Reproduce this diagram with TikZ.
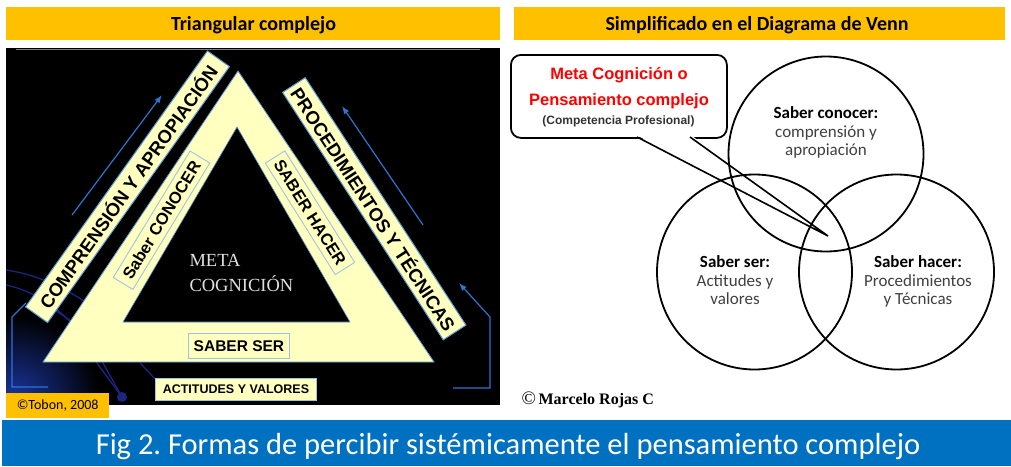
\documentclass[tikz,border=0pt]{standalone}
\usepackage{fontspec}
\usetikzlibrary{arrows.meta}
\newfontfamily\calfont{Carlito}
\newfontfamily\arifont{Liberation Sans}
\newfontfamily\tmsfont{Liberation Serif}
\definecolor{hdr}{HTML}{FFC000}
\definecolor{lyel}{HTML}{FFFFC0}
\definecolor{edgeblue}{HTML}{5B9BD5}
\definecolor{boxblue}{HTML}{9DC3E6}
\definecolor{arrblue}{HTML}{2E74D0}
\definecolor{navyline}{HTML}{1C2580}
\definecolor{glowblue}{HTML}{1A35A0}
\definecolor{banner}{HTML}{0070C0}
\definecolor{txtgrey}{HTML}{404040}
\definecolor{subgrey}{HTML}{333333}
\newcommand\fsz[1]{\fontsize{#1}{#1}\selectfont}
\frenchspacing
\tikzset{
  stripbox/.style={draw=edgeblue, line width=1pt, fill=lyel, inner sep=0pt, text=black, font=\arifont\bfseries\fsz{18.5}},
  inbox/.style={draw=boxblue, line width=0.9pt, fill=lyel, inner sep=0pt, text=black, font=\arifont\bfseries\fsz{16.5}},
  barbox/.style={fill=hdr, inner sep=0pt, anchor=north west},
  arr/.style={draw=arrblue, line width=1.2pt, -{Latex[length=8pt,width=6pt]}},
  arrline/.style={draw=arrblue, line width=1.2pt},
  navyarc/.style={draw=navyline, line width=1.3pt},
  vtitle/.style={font=\calfont\bfseries\fsz{17}, anchor=base, text=black},
  vtext/.style={font=\calfont\fsz{17}, anchor=base, text=txtgrey},
  venn/.style={circle, draw=black, line width=1.8pt, minimum size=195pt, inner sep=0pt},
  hdrtext/.style={anchor=base, font=\calfont\bfseries\fsz{20}, text=black},
  redtext/.style={anchor=base, text=red, font=\arifont\bfseries\fsz{16.5}},
  metatext/.style={anchor=base west, text=black!12, font=\tmsfont\fsz{18.5}}
}
\begin{document}
\begin{tikzpicture}[x=1pt,y=-1pt]
\useasboundingbox (0,0) rectangle (1011,466);
\fill[white] (0,0) rectangle (1011,466);

% headers
\node[barbox, minimum width=494pt, minimum height=33pt] (hl) at (6,7) {};
\node[hdrtext] (hlt) at (253.5,30) {Triangular complejo};
\node[barbox, minimum width=491pt, minimum height=33pt] (hr) at (514,7) {};
\node[hdrtext] (hrt) at (757,30) {Simplificado en el Diagrama de Venn};

% left panel
\fill[black] (6,48) rectangle (500,405);
\begin{scope}
  \clip (6,48) rectangle (500,405);
  \shade[inner color=glowblue, outer color=black] (15,400) circle (85pt);
\end{scope}
\draw[draw=black!50, line width=1.5pt] (16,49.5) -- (480,49.5);

% decorative navy arcs
\draw[navyarc] (6,270) .. controls (40,275) and (70,290) .. (100,312);
\draw[navyarc] (6,285) .. controls (40,292) and (80,320) .. (97,363) -- (122,397);
\draw[navyarc] (45,305) .. controls (75,320) and (95,340) .. (103,363) -- (122,397);
\draw[navyarc] (140,363) -- (158,382);
\fill[navyline] (122,397) circle (5pt);

% blue arrows
\coordinate (la1) at (72,215);  \coordinate (la2) at (162,95);
\coordinate (ra1) at (423,225); \coordinate (ra2) at (342,106);
\draw[arr] (la1) -- (la2);
\draw[arr] (ra1) -- (ra2);
\coordinate (br1) at (453,388); \coordinate (br2) at (490,388);
\coordinate (br3) at (490,317); \coordinate (br4) at (459,283);
\draw[arr] (br1) -- (br2) -- (br3) -- (br4);
\coordinate (bl1) at (48,387); \coordinate (bl2) at (12,387);
\coordinate (bl3) at (12,317); \coordinate (bl4) at (26,303);
\draw[arrline] (bl1) -- (bl2) -- (bl3) -- (bl4);

% triangle
\coordinate (oA) at (238,71); \coordinate (oB) at (43,362); \coordinate (oC) at (434,362);
\coordinate (iA) at (237,127); \coordinate (iB) at (123,322); \coordinate (iC) at (350,322);
\filldraw[fill=lyel, draw=edgeblue, line width=0.8pt] (oA) -- (oB) -- (oC) -- cycle;
\filldraw[fill=black, draw=edgeblue, line width=0.6pt] (iA) -- (iB) -- (iC) -- cycle;

% strips
\node[stripbox, rotate=54.6, minimum width=314pt, minimum height=27pt] (s1) at (127.5,186.75) {COMPRENSIÓN Y APROPIACIÓN};
\node[stripbox, rotate=-57, minimum width=295pt, minimum height=27pt] (s2) at (374.25,208.75) {PROCEDIMIENTOS Y TÉCNICAS};

% inner boxes
\node[inbox, rotate=58.7, minimum width=148pt, minimum height=23pt] (b1) at (161.5,220.25) {Saber CONOCER};
\node[inbox, rotate=-57.9, minimum width=131.6pt, minimum height=23pt] (b2) at (310,212.75) {SABER HACER};
\node[inbox, anchor=north west, minimum width=101pt, minimum height=25pt, font=\arifont\bfseries\fsz{15.5}] (b3) at (188,333) {SABER SER};
\node[inbox, anchor=north west, minimum width=161pt, minimum height=22pt, font=\arifont\bfseries\fsz{12.5}] (b4) at (155,378) {ACTITUDES Y VALORES};

% meta cognicion
\node[metatext] (m1) at (186,266.7) {META};
\node[metatext] (m2) at (186,291.7) {COGNICIÓN};

% tobon
\node[barbox, minimum width=103pt, minimum height=25pt, font=\calfont\fsz{14}] (tob) at (6,393) {©Tobon, 2008};

% right panel: callout
\node[draw=black, line width=1.8pt, rounded corners=10pt, fill=white, minimum width=216pt, minimum height=83pt, inner sep=0pt, anchor=north west] (call) at (510,54) {};
\coordinate (t1) at (637,137);
\coordinate (t2) at (690,137);
\coordinate (tip) at (828,236);
\fill[white] (636.5,135.2) -- (tip) -- (691,135.2) -- cycle;

% venn circles
\node[venn] (cTop) at (826,154) {};
\node[venn] (cLeft) at (754.5,272) {};
\node[venn] (cRight) at (896.5,272) {};

\draw[line width=1.6pt] (t1) -- (tip) -- (t2);

% callout text
\node[redtext] (ct1) at (619,79.3) {Meta Cognición o};
\node[redtext] (ct2) at (619,105) {Pensamiento complejo};
\node[anchor=base, text=subgrey, font=\arifont\bfseries\fsz{12}] (ct3) at (618.5,124) {(Competencia Profesional)};

% venn text
\node[vtitle] (vt1) at (826,118.3) {Saber conocer:};
\node[vtext] (vx1) at (826,137) {comprensión y};
\node[vtext] (vx2) at (826,155.5) {apropiación};
\node[vtitle] (vt2) at (735,267.3) {Saber ser:};
\node[vtext] (vx3) at (735,286) {Actitudes y};
\node[vtext] (vx4) at (735,304.5) {valores};
\node[vtitle] (vt3) at (918,267.3) {Saber hacer:};
\node[vtext] (vx5) at (918,286) {Procedimientos};
\node[vtext] (vx6) at (918,304.5) {y Técnicas};

% author
\node[anchor=base west, font=\tmsfont\bfseries\fsz{16}] (auth) at (518,404) {{\mdseries\fsz{19}©}\,Marcelo Rojas C};

% banner
\node[fill=banner, anchor=north west, minimum width=1009pt, minimum height=46pt, inner sep=0pt] (ban) at (2,420) {};
\node[anchor=base, text=white, font=\calfont\fsz{30.5}] (bant) at (508,454) {Fig 2. Formas de percibir sistémicamente el pensamiento complejo};
\end{tikzpicture}
\end{document}
